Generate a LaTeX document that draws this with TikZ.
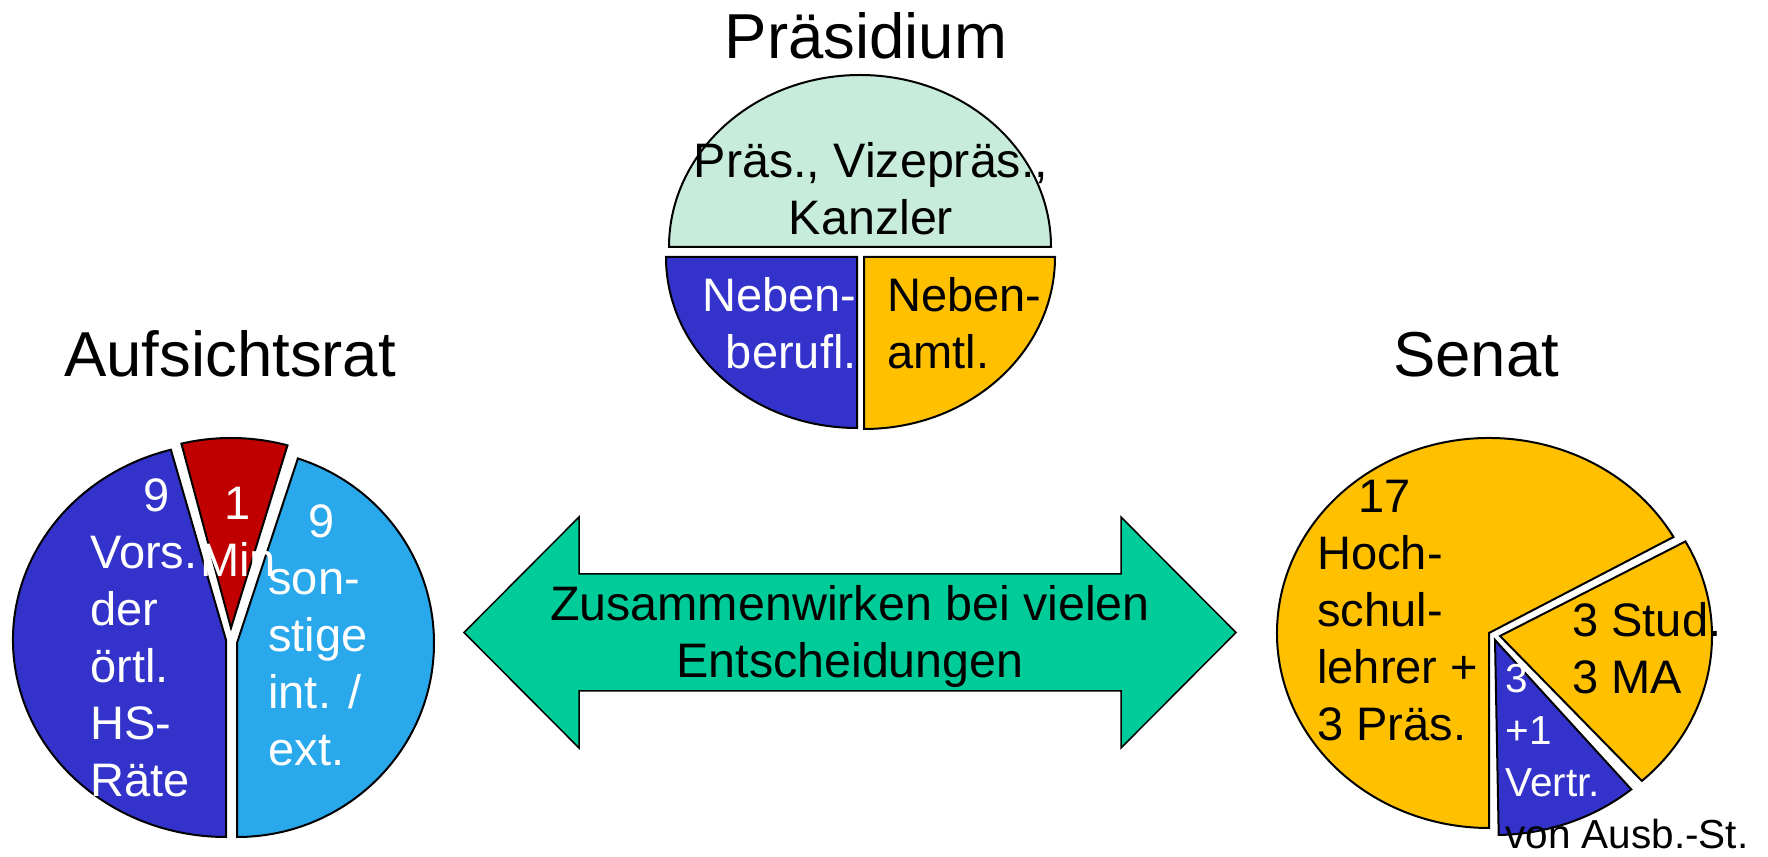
\documentclass[tikz,border=0pt]{standalone}
\usepackage{fontspec}
\setmainfont{Liberation Sans}
\definecolor{mint}{RGB}{200,236,220}
\definecolor{royal}{RGB}{51,51,204}
\definecolor{gold}{RGB}{255,192,0}
\definecolor{crimson}{RGB}{192,0,0}
\definecolor{sky}{RGB}{41,168,236}
\definecolor{arrowgreen}{RGB}{0,204,153}
\newcommand*{\pieslice}[7]{% colour, vertex x, vertex y, x radius, y radius, start angle, end angle (radii in px)
    \draw [slice, fill=#1] (#2,#3) -- +(#6:#4*0.5pt and #5*0.5pt) arc [start angle=#6, end angle=#7, x radius=#4*0.5pt, y radius=#5*0.5pt] -- cycle;
}
\newcommand*{\stack}[2]{\begin{tabular}[t]{@{}#1@{}}#2\end{tabular}}
\tikzset{
    slice/.style={draw=black, line width=1pt},
    lbl/.style={inner sep=0pt, font=\fontsize{23.5}{28.5}\selectfont},
    biglbl/.style={inner sep=0pt, font=\fontsize{24.2}{28.5}\selectfont},
    smalllbl/.style={inner sep=0pt, font=\fontsize{20.25}{25.85}\selectfont},
    title/.style={inner sep=0pt, font=\fontsize{31.75}{38}\selectfont}
}

\begin{document}
\begin{tikzpicture}[x=0.5pt, y=0.5pt]
\useasboundingbox (0,0) rectangle (1768,857);
% Praesidium
\pieslice{mint}{860}{610}{191}{172}{0}{180}
\pieslice{royal}{857}{600}{191}{171}{180}{270}
\pieslice{gold}{864}{600}{191}{172}{270}{360}
% Aufsichtsrat
\pieslice{royal}{226}{217}{213}{197}{105}{270}
\pieslice{crimson}{231}{229}{205}{190}{74}{104}
\pieslice{sky}{237}{214}{197}{194}{-90}{72}
% Senat
\pieslice{gold}{1489}{224}{212}{195}{29.5}{270}
\pieslice{gold}{1500}{221}{212}{195}{-48}{29}
\pieslice{royal}{1495}{217}{212}{195}{-89}{-50}
% double arrow
\draw [fill=arrowgreen, draw=black, line width=0.75pt]
    (464,224.5) -- (579,340) -- (579,283) -- (1121,283) -- (1121,340) -- (1236,224.5)
    -- (1121,109) -- (1121,166) -- (579,166) -- (579,109) -- cycle;
\node [biglbl, anchor=base] (zusammen) at (850,236) {\stack{c}{Zusammenwirken bei vielen\\Entscheidungen}};
% titles
\node [title, anchor=base] (praesidium) at (866,798) {Präsidium};
\node [title, anchor=base] (aufsichtsrat) at (230,480) {Aufsichtsrat};
\node [title, anchor=base] (senat) at (1476,480) {Senat};
% labels
\node [biglbl, anchor=base] (praes) at (871,679) {\stack{c}{Präs., Vizepräs.,\\Kanzler}};
\node [lbl, white, anchor=base east] (berufl) at (857,545) {\stack{r}{Neben-\\berufl.}};
\node [lbl, anchor=base west] (amtl) at (887,545) {\stack{l}{Neben-\\amtl.}};
\node [lbl, white, anchor=base west] (vors) at (90,345) {\stack{l}{\hspace*{26.5pt}9\\Vors.\\der\\örtl.\\HS-\\Räte}};
\node [lbl, white, anchor=base] (min) at (238,337) {\stack{c}{1\\Min}};
\node [lbl, white, anchor=base west] (sonst) at (268,319) {\stack{l}{\hspace*{20pt}9\\son-\\stige\\int. /\\ext.}};
\node [lbl, anchor=base west] (hochschul) at (1317,344) {\stack{l}{\hspace*{20.5pt}17\\Hoch-\\schul-\\lehrer +\\3 Präs.}};
\node [lbl, anchor=base west] (stud) at (1572,220) {\stack{l}{3 Stud.\\3 MA}};
\node [smalllbl, white, anchor=base west] (vertr) at (1505,164) {\stack{l}{3\\+1\\Vertr.\\\color{black}von Ausb.-St.}};
\end{tikzpicture}
\end{document}
